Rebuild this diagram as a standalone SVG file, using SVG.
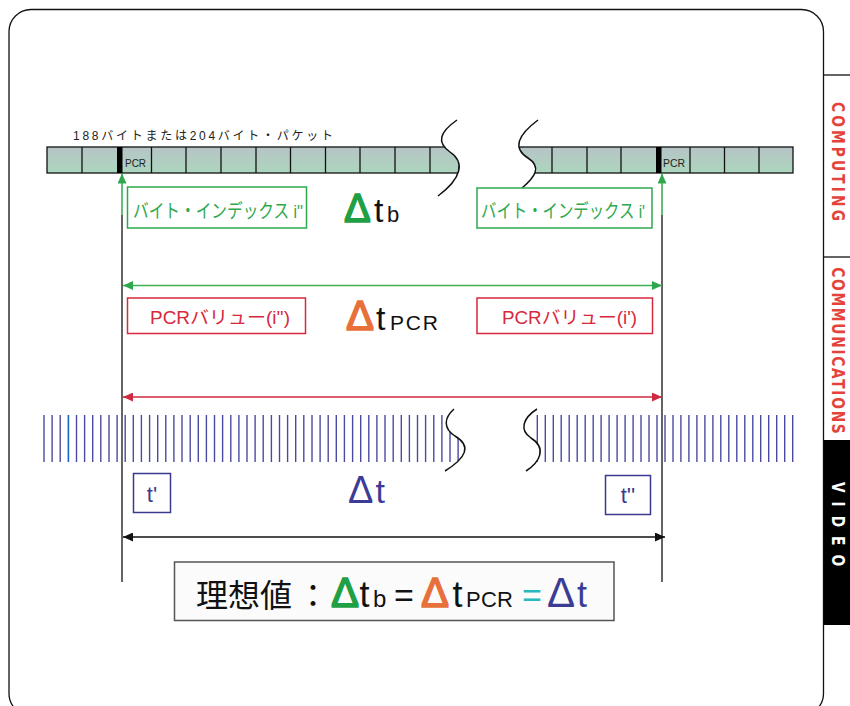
<svg xmlns="http://www.w3.org/2000/svg" width="850" height="706" viewBox="0 0 850 706">
<style>
.jp{font-family:"Liberation Sans","Noto Sans CJK JP",sans-serif}
.lat{font-family:"Liberation Sans",sans-serif}
.tab{font-family:"DejaVu Sans Condensed","DejaVu Sans",sans-serif;font-weight:bold;font-size:18px}
.cell{fill:url(#barfill);stroke:#111;stroke-width:1.3}
.div{stroke:#111;stroke-width:1.3;fill:none}
.wave{fill:none;stroke:#111;stroke-width:1.5}
.gbox{fill:#fff;stroke:#2ea84c;stroke-width:1.5}
.rbox{fill:#fff;stroke:#d8283c;stroke-width:1.5}
.nbox{fill:#fff;stroke:#3a3a8e;stroke-width:1.5}
.tick{stroke:#4a4aa2;stroke-width:1.4;fill:none}
.dg{fill:#1fa044;stroke:#1fa044;stroke-width:1.6}
.do{fill:#e8703a;stroke:#e8703a;stroke-width:1.6}
</style>
<defs>
<linearGradient id="barfill" x1="0" y1="0" x2="0" y2="1">
<stop offset="0" stop-color="#b6c4c6"/>
<stop offset="1" stop-color="#acd6be"/>
</linearGradient>
<clipPath id="clipL"><path d="M30,100 H457 V120 C440,132 436,142 450,152 C465,162 462,178 438,196 H30 Z"/></clipPath>
<clipPath id="clipR"><path d="M538,100 H820 V200 H522 V188 C535,177 542,167 528,158 C512,148 518,135 538,120 Z"/></clipPath>
<clipPath id="clipCL"><path d="M30,400 H454 V409 C444,418 443,428 455,436 C472,446 466,458 445,471 V480 H30 Z"/></clipPath>
<clipPath id="clipCR"><path d="M537,400 H820 V480 H526 V471 C540,462 547,448 531,438 C519,430 523,418 537,409 Z"/></clipPath>
<marker id="ahG" viewBox="0 0 10 9" refX="10" refY="4.5" markerWidth="10" markerHeight="9" markerUnits="userSpaceOnUse" orient="auto-start-reverse"><path d="M0,0 L10,4.5 L0,9 Z" fill="#2ea84c"/></marker>
<marker id="ahR" viewBox="0 0 10 9" refX="10" refY="4.5" markerWidth="10" markerHeight="9" markerUnits="userSpaceOnUse" orient="auto-start-reverse"><path d="M0,0 L10,4.5 L0,9 Z" fill="#d02a40"/></marker>
<marker id="ahK" viewBox="0 0 10 9" refX="10" refY="4.5" markerWidth="10" markerHeight="9" markerUnits="userSpaceOnUse" orient="auto-start-reverse"><path d="M0,0 L10,4.5 L0,9 Z" fill="#111"/></marker>
</defs>

<g id="frame">
<rect x="9" y="9.5" width="814.5" height="706" rx="22" ry="22" fill="#fff" stroke="#111" stroke-width="1.3"/>
</g>

<g id="side-tab">
<line x1="823.5" y1="75" x2="850" y2="75" stroke="#111" stroke-width="1.3"/>
<line x1="823.5" y1="257" x2="850" y2="257" stroke="#111" stroke-width="1.3"/>
<rect x="823.5" y="440" width="27" height="185" fill="#000"/>
<text class="tab" fill="#e4433b" transform="translate(832,161.5) rotate(90) scale(0.85,1)" text-anchor="middle" textLength="140" lengthAdjust="spacing">COMPUTING</text>
<text class="tab" fill="#e4433b" transform="translate(832,350.5) rotate(90) scale(0.85,1)" text-anchor="middle" textLength="196" lengthAdjust="spacing">COMMUNICATIONS</text>
<text class="tab" fill="#fff" transform="translate(832,524) rotate(90) scale(0.85,1)" text-anchor="middle" textLength="99" lengthAdjust="spacing">VIDEO</text>
</g>

<g id="packet-label">
<text class="jp" x="73" y="140" font-size="12" fill="#222" textLength="260" lengthAdjust="spacing">188バイトまたは204バイト・パケット</text>
</g>

<g id="packet-bar-left">
<g clip-path="url(#clipL)">
<rect class="cell" x="47" y="147" width="430" height="26"/>
<path class="div" d="M82,147V173M151.5,147V173M186,147V173M221,147V173M256,147V173M290.5,147V173M325.5,147V173M360,147V173M395,147V173M430,147V173"/>
<rect x="117" y="147" width="5.5" height="26" fill="#000"/>
</g>
<path class="wave" d="M457,120 C440,132 436,142 450,152 C465,162 462,178 438,196"/>
<text class="lat" x="125" y="167" font-size="11" fill="#222" textLength="21" lengthAdjust="spacingAndGlyphs">PCR</text>
</g>

<g id="packet-bar-right">
<g clip-path="url(#clipR)">
<rect class="cell" x="505" y="147" width="288" height="26"/>
<path class="div" d="M552,147V173M587,147V173M621,147V173M690,147V173M724.5,147V173M759,147V173"/>
<rect x="656" y="147" width="5.5" height="26" fill="#000"/>
</g>
<path class="wave" d="M538,120 C518,135 512,148 528,158 C542,167 535,177 522,188"/>
<text class="lat" x="663" y="167" font-size="11" fill="#222" textLength="22" lengthAdjust="spacingAndGlyphs">PCR</text>
</g>

<g id="byte-index-left">
<rect class="gbox" x="127.5" y="187" width="179" height="41"/>
<text class="jp" x="133" y="218" font-size="19" fill="#2ea84c" textLength="170" lengthAdjust="spacingAndGlyphs">バイト・インデックス i''</text>
</g>
<g id="byte-index-right">
<rect class="gbox" x="477" y="188" width="175" height="40"/>
<text class="jp" x="481" y="217.5" font-size="19" fill="#2ea84c" textLength="164" lengthAdjust="spacingAndGlyphs">バイト・インデックス i'</text>
</g>

<g id="delta-tb">
<text class="lat dg" x="344" y="222" font-size="40">Δ</text>
<text class="lat" x="374" y="222" font-size="34" fill="#111">t</text>
<text class="lat" x="387" y="222" font-size="22" fill="#111">b</text>
</g>

<g id="pcr-value-left">
<rect class="rbox" x="127.5" y="298" width="178" height="35.5"/>
<text class="jp" x="150" y="323.5" font-size="18" fill="#d8283c" textLength="140" lengthAdjust="spacingAndGlyphs">PCRバリュー(i'')</text>
</g>
<g id="pcr-value-right">
<rect class="rbox" x="477" y="298" width="175.5" height="35.5"/>
<text class="jp" x="502" y="323.5" font-size="18" fill="#d8283c" textLength="135" lengthAdjust="spacingAndGlyphs">PCRバリュー(i')</text>
</g>

<g id="delta-tpcr">
<text class="lat do" x="346" y="330" font-size="42">Δ</text>
<text class="lat" x="376" y="330" font-size="34" fill="#111">t</text>
<text class="lat" x="390" y="329.5" font-size="21" fill="#111" textLength="48" lengthAdjust="spacing">PCR</text>
</g>

<g id="clock-left">
<g clip-path="url(#clipCL)">
<path class="tick" d="M44,415V462M52.1,415V462M60.2,415V462M76.5,415V462M84.6,415V462M92.7,415V462M100.8,415V462M109,415V462M117.1,415V462M125.2,415V462M133.3,415V462M141.4,415V462M149.6,415V462M157.7,415V462M165.8,415V462M173.9,415V462M182,415V462M190.2,415V462M198.3,415V462M206.4,415V462M214.5,415V462M222.6,415V462M230.8,415V462M238.9,415V462M247,415V462M255.1,415V462M263.2,415V462M271.4,415V462M279.5,415V462M287.6,415V462M295.7,415V462M303.8,415V462M312,415V462M320.1,415V462M328.2,415V462M336.3,415V462M344.4,415V462M352.6,415V462M360.7,415V462M368.8,415V462M376.9,415V462M385,415V462M393.2,415V462M401.3,415V462M409.4,415V462M417.5,415V462M425.6,415V462M433.8,415V462M441.9,415V462M450,415V462M458.1,415V462"/>
<line x1="68.4" y1="415" x2="68.4" y2="462" stroke="#1a64c4" stroke-width="1.6"/>
</g>
<path class="wave" d="M454,409 C444,418 443,428 455,436 C472,446 466,458 445,471"/>
</g>

<g id="clock-right">
<g clip-path="url(#clipCR)">
<path class="tick" d="M537.3,415V462M545.3,415V462M553.3,415V462M561.2,415V462M569.2,415V462M577.2,415V462M585.2,415V462M593.2,415V462M601.1,415V462M609.1,415V462M617.1,415V462M625.1,415V462M633.1,415V462M641,415V462M649,415V462M657,415V462M665,415V462M673,415V462M680.9,415V462M688.9,415V462M696.9,415V462M704.9,415V462M712.9,415V462M720.8,415V462M728.8,415V462M736.8,415V462M744.8,415V462M752.8,415V462M760.7,415V462M768.7,415V462M776.7,415V462M784.7,415V462M792.7,415V462"/>
</g>
<path class="wave" d="M537,409 C523,418 519,430 531,438 C547,448 540,462 526,471"/>
</g>

<g id="t-prime">
<rect class="nbox" x="133.5" y="473.5" width="37" height="39"/>
<text class="lat" x="152" y="501.5" font-size="22" fill="#3a3a8e" text-anchor="middle">t'</text>
</g>
<g id="t-double-prime">
<rect class="nbox" x="605.5" y="475.5" width="45" height="39"/>
<text class="lat" x="628" y="503" font-size="22" fill="#3a3a8e" text-anchor="middle">t''</text>
</g>

<g id="delta-t">
<text class="lat" x="348" y="503" font-size="38" fill="#3c3c96">Δ</text>
<text class="lat" x="375.5" y="503" font-size="34" fill="#3c3c96">t</text>
</g>

<g id="ideal-formula">
<rect x="174.5" y="562" width="439.5" height="58.5" fill="#fbfbfb" stroke="#555" stroke-width="1.5"/>
<text class="jp" x="196" y="607" font-size="32" fill="#111">理想値</text>
<text class="jp" x="297" y="607" font-size="32" fill="#111">：</text>
<text class="lat dg" x="331" y="607" font-size="42">Δ</text>
<text class="lat" x="359.5" y="607" font-size="36" fill="#111">t</text>
<text class="lat" x="373" y="607" font-size="24" fill="#111">b</text>
<text class="lat" x="394" y="607" font-size="34" fill="#111">=</text>
<text class="lat do" x="421" y="607" font-size="42">Δ</text>
<text class="lat" x="452.5" y="607" font-size="36" fill="#111">t</text>
<text class="lat" x="466" y="607" font-size="22" fill="#111" textLength="47" lengthAdjust="spacing">PCR</text>
<text class="lat" x="522" y="607" font-size="34" fill="#28b8c0">=</text>
<text class="lat" x="547" y="607" font-size="42" fill="#3c3c96">Δ</text>
<text class="lat" x="577" y="607" font-size="36" fill="#3c3c96">t</text>
</g>

<g id="connectors">
<line x1="122" y1="215" x2="122" y2="582" stroke="#111" stroke-width="1.3"/>
<line x1="662" y1="215" x2="662" y2="582" stroke="#111" stroke-width="1.3"/>
<line x1="122" y1="215" x2="122" y2="173.5" stroke="#2ea84c" stroke-width="1.5" marker-end="url(#ahG)"/>
<line x1="662" y1="215" x2="662" y2="173.5" stroke="#2ea84c" stroke-width="1.5" marker-end="url(#ahG)"/>
<line x1="123" y1="285.5" x2="662" y2="285.5" stroke="#3cb050" stroke-width="1.5" marker-start="url(#ahG)" marker-end="url(#ahG)"/>
<line x1="123" y1="397" x2="662" y2="397" stroke="#d02a40" stroke-width="1.3" marker-start="url(#ahR)" marker-end="url(#ahR)"/>
<line x1="123" y1="537" x2="665" y2="537" stroke="#111" stroke-width="1.3" marker-start="url(#ahK)" marker-end="url(#ahK)"/>
</g>
</svg>
